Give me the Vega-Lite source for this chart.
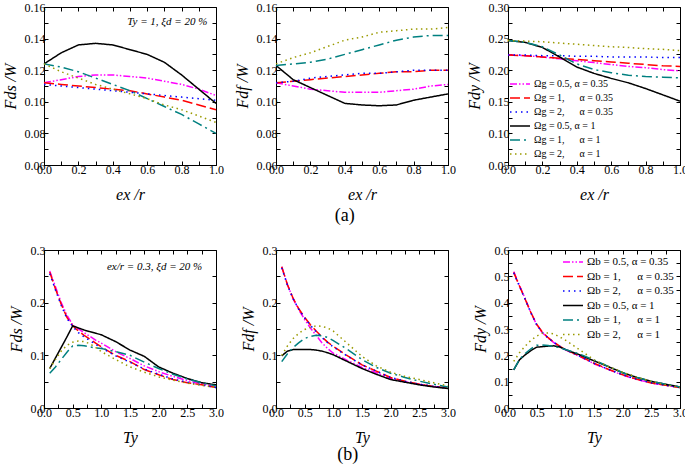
{
"$schema":"https://vega.github.io/schema/vega-lite/v6.json",
"autosize":{"type":"pad"},
"padding":{"left":1,"top":0,"right":5,"bottom":5},
"background":"white",
"config":{
 "font":"Liberation Serif",
 "view":{"stroke":"black","strokeWidth":1},
 "axis":{"grid":false,"domainColor":"black","domainWidth":1,"tickColor":"black","tickSize":-4,"labelColor":"black","titleColor":"black","labelFont":"Liberation Serif","labelFontSize":12,"titleFont":"Liberation Serif","titleFontSize":16,"titleFontStyle":"italic","titleFontWeight":"normal","labelFlush":false,"labelPadding":3,"labelOverlap":false},
 "axisX":{"titlePadding":11},
 "axisY":{"titlePadding":6},
 "legend":{"labelFont":"Liberation Serif","labelColor":"black"},
 "text":{"font":"Liberation Serif"},
 "title":{"font":"Liberation Serif"}
},
"datasets":{
"p1":[
{"s":"m","x":0,"y":0.112},{"s":"m","x":0.1,"y":0.114},{"s":"m","x":0.2,"y":0.116},{"s":"m","x":0.3,"y":0.117},{"s":"m","x":0.4,"y":0.117},{"s":"m","x":0.5,"y":0.116},{"s":"m","x":0.6,"y":0.115},{"s":"m","x":0.7,"y":0.113},{"s":"m","x":0.8,"y":0.111},{"s":"m","x":0.9,"y":0.108},{"s":"m","x":1,"y":0.104},
{"s":"r","x":0,"y":0.112},{"s":"r","x":0.1,"y":0.111},{"s":"r","x":0.2,"y":0.110},{"s":"r","x":0.3,"y":0.109},{"s":"r","x":0.4,"y":0.108},{"s":"r","x":0.5,"y":0.107},{"s":"r","x":0.6,"y":0.105},{"s":"r","x":0.7,"y":0.103},{"s":"r","x":0.8,"y":0.101},{"s":"r","x":0.9,"y":0.098},{"s":"r","x":1,"y":0.095},
{"s":"b","x":0,"y":0.111},{"s":"b","x":0.1,"y":0.110},{"s":"b","x":0.2,"y":0.109},{"s":"b","x":0.3,"y":0.108},{"s":"b","x":0.4,"y":0.107},{"s":"b","x":0.5,"y":0.106},{"s":"b","x":0.6,"y":0.105},{"s":"b","x":0.7,"y":0.104},{"s":"b","x":0.8,"y":0.103},{"s":"b","x":0.9,"y":0.102},{"s":"b","x":1,"y":0.101},
{"s":"k","x":0,"y":0.124},{"s":"k","x":0.1,"y":0.131},{"s":"k","x":0.2,"y":0.136},{"s":"k","x":0.3,"y":0.137},{"s":"k","x":0.4,"y":0.136},{"s":"k","x":0.5,"y":0.133},{"s":"k","x":0.6,"y":0.130},{"s":"k","x":0.7,"y":0.125},{"s":"k","x":0.8,"y":0.117},{"s":"k","x":0.9,"y":0.108},{"s":"k","x":1,"y":0.099},
{"s":"t","x":0,"y":0.124},{"s":"t","x":0.1,"y":0.122},{"s":"t","x":0.2,"y":0.119},{"s":"t","x":0.3,"y":0.115},{"s":"t","x":0.4,"y":0.111},{"s":"t","x":0.5,"y":0.107},{"s":"t","x":0.6,"y":0.102},{"s":"t","x":0.7,"y":0.097},{"s":"t","x":0.8,"y":0.092},{"s":"t","x":0.9,"y":0.086},{"s":"t","x":1,"y":0.080},
{"s":"o","x":0,"y":0.124},{"s":"o","x":0.1,"y":0.119},{"s":"o","x":0.2,"y":0.115},{"s":"o","x":0.3,"y":0.111},{"s":"o","x":0.4,"y":0.108},{"s":"o","x":0.5,"y":0.105},{"s":"o","x":0.6,"y":0.102},{"s":"o","x":0.7,"y":0.098},{"s":"o","x":0.8,"y":0.095},{"s":"o","x":0.9,"y":0.091},{"s":"o","x":1,"y":0.087}
],
"p2":[
{"s":"m","x":0,"y":0.112},{"s":"m","x":0.1,"y":0.110},{"s":"m","x":0.2,"y":0.108},{"s":"m","x":0.3,"y":0.107},{"s":"m","x":0.4,"y":0.106},{"s":"m","x":0.5,"y":0.106},{"s":"m","x":0.6,"y":0.106},{"s":"m","x":0.7,"y":0.107},{"s":"m","x":0.8,"y":0.108},{"s":"m","x":0.9,"y":0.110},{"s":"m","x":1,"y":0.111},
{"s":"r","x":0,"y":0.112},{"s":"r","x":0.1,"y":0.113},{"s":"r","x":0.2,"y":0.114},{"s":"r","x":0.3,"y":0.115},{"s":"r","x":0.4,"y":0.116},{"s":"r","x":0.5,"y":0.117},{"s":"r","x":0.6,"y":0.118},{"s":"r","x":0.7,"y":0.119},{"s":"r","x":0.8,"y":0.119},{"s":"r","x":0.9,"y":0.120},{"s":"r","x":1,"y":0.120},
{"s":"b","x":0,"y":0.112},{"s":"b","x":0.1,"y":0.113},{"s":"b","x":0.2,"y":0.115},{"s":"b","x":0.3,"y":0.116},{"s":"b","x":0.4,"y":0.117},{"s":"b","x":0.5,"y":0.118},{"s":"b","x":0.6,"y":0.118},{"s":"b","x":0.7,"y":0.119},{"s":"b","x":0.8,"y":0.120},{"s":"b","x":0.9,"y":0.120},{"s":"b","x":1,"y":0.120},
{"s":"k","x":0,"y":0.123},{"s":"k","x":0.1,"y":0.114},{"s":"k","x":0.2,"y":0.109},{"s":"k","x":0.3,"y":0.104},{"s":"k","x":0.4,"y":0.099},{"s":"k","x":0.5,"y":0.098},{"s":"k","x":0.6,"y":0.0975},{"s":"k","x":0.7,"y":0.098},{"s":"k","x":0.8,"y":0.101},{"s":"k","x":0.9,"y":0.103},{"s":"k","x":1,"y":0.105},
{"s":"t","x":0,"y":0.123},{"s":"t","x":0.1,"y":0.124},{"s":"t","x":0.2,"y":0.125},{"s":"t","x":0.3,"y":0.127},{"s":"t","x":0.4,"y":0.130},{"s":"t","x":0.5,"y":0.133},{"s":"t","x":0.6,"y":0.136},{"s":"t","x":0.7,"y":0.139},{"s":"t","x":0.8,"y":0.141},{"s":"t","x":0.9,"y":0.142},{"s":"t","x":1,"y":0.142},
{"s":"o","x":0,"y":0.124},{"s":"o","x":0.1,"y":0.128},{"s":"o","x":0.2,"y":0.131},{"s":"o","x":0.3,"y":0.135},{"s":"o","x":0.4,"y":0.139},{"s":"o","x":0.5,"y":0.141},{"s":"o","x":0.6,"y":0.144},{"s":"o","x":0.7,"y":0.145},{"s":"o","x":0.8,"y":0.146},{"s":"o","x":0.9,"y":0.146},{"s":"o","x":1,"y":0.147}
],
"p3":[
{"s":"m","x":0,"y":0.224},{"s":"m","x":0.1,"y":0.223},{"s":"m","x":0.2,"y":0.221},{"s":"m","x":0.3,"y":0.218},{"s":"m","x":0.4,"y":0.215},{"s":"m","x":0.5,"y":0.212},{"s":"m","x":0.6,"y":0.209},{"s":"m","x":0.7,"y":0.206},{"s":"m","x":0.8,"y":0.204},{"s":"m","x":0.9,"y":0.201},{"s":"m","x":1,"y":0.199},
{"s":"r","x":0,"y":0.224},{"s":"r","x":0.1,"y":0.223},{"s":"r","x":0.2,"y":0.221},{"s":"r","x":0.3,"y":0.219},{"s":"r","x":0.4,"y":0.217},{"s":"r","x":0.5,"y":0.215},{"s":"r","x":0.6,"y":0.213},{"s":"r","x":0.7,"y":0.211},{"s":"r","x":0.8,"y":0.209},{"s":"r","x":0.9,"y":0.207},{"s":"r","x":1,"y":0.206},
{"s":"b","x":0,"y":0.224},{"s":"b","x":0.1,"y":0.224},{"s":"b","x":0.2,"y":0.223},{"s":"b","x":0.3,"y":0.223},{"s":"b","x":0.4,"y":0.222},{"s":"b","x":0.5,"y":0.222},{"s":"b","x":0.6,"y":0.221},{"s":"b","x":0.7,"y":0.221},{"s":"b","x":0.8,"y":0.221},{"s":"b","x":0.9,"y":0.220},{"s":"b","x":1,"y":0.220},
{"s":"k","x":0,"y":0.247},{"s":"k","x":0.1,"y":0.244},{"s":"k","x":0.2,"y":0.236},{"s":"k","x":0.3,"y":0.221},{"s":"k","x":0.4,"y":0.205},{"s":"k","x":0.5,"y":0.195},{"s":"k","x":0.6,"y":0.187},{"s":"k","x":0.7,"y":0.180},{"s":"k","x":0.8,"y":0.171},{"s":"k","x":0.9,"y":0.161},{"s":"k","x":1,"y":0.151},
{"s":"t","x":0,"y":0.247},{"s":"t","x":0.1,"y":0.244},{"s":"t","x":0.2,"y":0.237},{"s":"t","x":0.3,"y":0.224},{"s":"t","x":0.4,"y":0.210},{"s":"t","x":0.5,"y":0.201},{"s":"t","x":0.6,"y":0.196},{"s":"t","x":0.7,"y":0.192},{"s":"t","x":0.8,"y":0.190},{"s":"t","x":0.9,"y":0.189},{"s":"t","x":1,"y":0.188},
{"s":"o","x":0,"y":0.247},{"s":"o","x":0.1,"y":0.246},{"s":"o","x":0.2,"y":0.245},{"s":"o","x":0.3,"y":0.243},{"s":"o","x":0.4,"y":0.241},{"s":"o","x":0.5,"y":0.239},{"s":"o","x":0.6,"y":0.237},{"s":"o","x":0.7,"y":0.236},{"s":"o","x":0.8,"y":0.234},{"s":"o","x":0.9,"y":0.233},{"s":"o","x":1,"y":0.231}
],
"p4":[
{"s":"m","x":0.1,"y":0.260},{"s":"m","x":0.2,"y":0.230},{"s":"m","x":0.3,"y":0.200},{"s":"m","x":0.4,"y":0.176},{"s":"m","x":0.5,"y":0.158},{"s":"m","x":0.6,"y":0.150},{"s":"m","x":0.7,"y":0.143},{"s":"m","x":0.8,"y":0.136},{"s":"m","x":0.9,"y":0.129},{"s":"m","x":1.0,"y":0.123},{"s":"m","x":1.25,"y":0.107},{"s":"m","x":1.5,"y":0.094},{"s":"m","x":1.75,"y":0.080},{"s":"m","x":2.0,"y":0.069},{"s":"m","x":2.25,"y":0.060},{"s":"m","x":2.5,"y":0.052},{"s":"m","x":2.75,"y":0.046},{"s":"m","x":3.0,"y":0.040},
{"s":"r","x":0.1,"y":0.258},{"s":"r","x":0.2,"y":0.226},{"s":"r","x":0.3,"y":0.197},{"s":"r","x":0.4,"y":0.172},{"s":"r","x":0.5,"y":0.156},{"s":"r","x":0.6,"y":0.146},{"s":"r","x":0.7,"y":0.138},{"s":"r","x":0.8,"y":0.131},{"s":"r","x":0.9,"y":0.123},{"s":"r","x":1.0,"y":0.116},{"s":"r","x":1.25,"y":0.100},{"s":"r","x":1.5,"y":0.088},{"s":"r","x":1.75,"y":0.073},{"s":"r","x":2.0,"y":0.063},{"s":"r","x":2.25,"y":0.054},{"s":"r","x":2.5,"y":0.048},{"s":"r","x":2.75,"y":0.044},{"s":"r","x":3.0,"y":0.039},
{"s":"b","x":0.1,"y":0.255},{"s":"b","x":0.2,"y":0.224},{"s":"b","x":0.3,"y":0.195},{"s":"b","x":0.4,"y":0.170},{"s":"b","x":0.5,"y":0.155},{"s":"b","x":0.6,"y":0.143},{"s":"b","x":0.7,"y":0.135},{"s":"b","x":0.8,"y":0.128},{"s":"b","x":0.9,"y":0.121},{"s":"b","x":1.0,"y":0.114},{"s":"b","x":1.25,"y":0.099},{"s":"b","x":1.5,"y":0.087},{"s":"b","x":1.75,"y":0.074},{"s":"b","x":2.0,"y":0.064},{"s":"b","x":2.25,"y":0.055},{"s":"b","x":2.5,"y":0.049},{"s":"b","x":2.75,"y":0.044},{"s":"b","x":3.0,"y":0.039},
{"s":"k","x":0.1,"y":0.075},{"s":"k","x":0.2,"y":0.095},{"s":"k","x":0.3,"y":0.115},{"s":"k","x":0.4,"y":0.135},{"s":"k","x":0.5,"y":0.156},{"s":"k","x":0.6,"y":0.152},{"s":"k","x":0.7,"y":0.148},{"s":"k","x":0.8,"y":0.145},{"s":"k","x":0.9,"y":0.142},{"s":"k","x":1.0,"y":0.139},{"s":"k","x":1.25,"y":0.126},{"s":"k","x":1.5,"y":0.110},{"s":"k","x":1.75,"y":0.098},{"s":"k","x":2.0,"y":0.078},{"s":"k","x":2.25,"y":0.066},{"s":"k","x":2.5,"y":0.056},{"s":"k","x":2.75,"y":0.048},{"s":"k","x":3.0,"y":0.044},
{"s":"t","x":0.1,"y":0.066},{"s":"t","x":0.2,"y":0.078},{"s":"t","x":0.3,"y":0.092},{"s":"t","x":0.4,"y":0.106},{"s":"t","x":0.5,"y":0.118},{"s":"t","x":0.6,"y":0.119},{"s":"t","x":0.7,"y":0.118},{"s":"t","x":0.8,"y":0.116},{"s":"t","x":0.9,"y":0.114},{"s":"t","x":1.0,"y":0.113},{"s":"t","x":1.25,"y":0.107},{"s":"t","x":1.5,"y":0.100},{"s":"t","x":1.75,"y":0.087},{"s":"t","x":2.0,"y":0.075},{"s":"t","x":2.25,"y":0.064},{"s":"t","x":2.5,"y":0.055},{"s":"t","x":2.75,"y":0.048},{"s":"t","x":3.0,"y":0.042},
{"s":"o","x":0.1,"y":0.075},{"s":"o","x":0.2,"y":0.092},{"s":"o","x":0.3,"y":0.108},{"s":"o","x":0.4,"y":0.119},{"s":"o","x":0.5,"y":0.125},{"s":"o","x":0.6,"y":0.127},{"s":"o","x":0.7,"y":0.126},{"s":"o","x":0.8,"y":0.122},{"s":"o","x":0.9,"y":0.115},{"s":"o","x":1.0,"y":0.107},{"s":"o","x":1.25,"y":0.092},{"s":"o","x":1.5,"y":0.078},{"s":"o","x":1.75,"y":0.068},{"s":"o","x":2.0,"y":0.059},{"s":"o","x":2.25,"y":0.053},{"s":"o","x":2.5,"y":0.047},{"s":"o","x":2.75,"y":0.043},{"s":"o","x":3.0,"y":0.039}
],
"p5":[
{"s":"m","x":0.1,"y":0.268},{"s":"m","x":0.2,"y":0.234},{"s":"m","x":0.3,"y":0.207},{"s":"m","x":0.4,"y":0.186},{"s":"m","x":0.5,"y":0.168},{"s":"m","x":0.6,"y":0.152},{"s":"m","x":0.7,"y":0.138},{"s":"m","x":0.8,"y":0.124},{"s":"m","x":0.9,"y":0.113},{"s":"m","x":1.0,"y":0.104},{"s":"m","x":1.25,"y":0.090},{"s":"m","x":1.5,"y":0.077},{"s":"m","x":1.75,"y":0.067},{"s":"m","x":2.0,"y":0.056},{"s":"m","x":2.25,"y":0.050},{"s":"m","x":2.5,"y":0.045},{"s":"m","x":2.75,"y":0.041},{"s":"m","x":3.0,"y":0.038},
{"s":"r","x":0.1,"y":0.268},{"s":"r","x":0.2,"y":0.234},{"s":"r","x":0.3,"y":0.208},{"s":"r","x":0.4,"y":0.188},{"s":"r","x":0.5,"y":0.172},{"s":"r","x":0.6,"y":0.158},{"s":"r","x":0.7,"y":0.146},{"s":"r","x":0.8,"y":0.135},{"s":"r","x":0.9,"y":0.125},{"s":"r","x":1.0,"y":0.117},{"s":"r","x":1.25,"y":0.099},{"s":"r","x":1.5,"y":0.082},{"s":"r","x":1.75,"y":0.070},{"s":"r","x":2.0,"y":0.058},{"s":"r","x":2.25,"y":0.051},{"s":"r","x":2.5,"y":0.045},{"s":"r","x":2.75,"y":0.041},{"s":"r","x":3.0,"y":0.038},
{"s":"b","x":0.1,"y":0.266},{"s":"b","x":0.2,"y":0.233},{"s":"b","x":0.3,"y":0.207},{"s":"b","x":0.4,"y":0.187},{"s":"b","x":0.5,"y":0.171},{"s":"b","x":0.6,"y":0.157},{"s":"b","x":0.7,"y":0.145},{"s":"b","x":0.8,"y":0.134},{"s":"b","x":0.9,"y":0.124},{"s":"b","x":1.0,"y":0.116},{"s":"b","x":1.25,"y":0.098},{"s":"b","x":1.5,"y":0.082},{"s":"b","x":1.75,"y":0.070},{"s":"b","x":2.0,"y":0.058},{"s":"b","x":2.25,"y":0.051},{"s":"b","x":2.5,"y":0.045},{"s":"b","x":2.75,"y":0.041},{"s":"b","x":3.0,"y":0.038},
{"s":"k","x":0.1,"y":0.099},{"s":"k","x":0.2,"y":0.108},{"s":"k","x":0.3,"y":0.111},{"s":"k","x":0.4,"y":0.111},{"s":"k","x":0.5,"y":0.111},{"s":"k","x":0.6,"y":0.111},{"s":"k","x":0.7,"y":0.110},{"s":"k","x":0.8,"y":0.108},{"s":"k","x":0.9,"y":0.105},{"s":"k","x":1.0,"y":0.101},{"s":"k","x":1.25,"y":0.088},{"s":"k","x":1.5,"y":0.075},{"s":"k","x":1.75,"y":0.064},{"s":"k","x":2.0,"y":0.054},{"s":"k","x":2.25,"y":0.049},{"s":"k","x":2.5,"y":0.044},{"s":"k","x":2.75,"y":0.040},{"s":"k","x":3.0,"y":0.037},
{"s":"t","x":0.1,"y":0.088},{"s":"t","x":0.2,"y":0.103},{"s":"t","x":0.3,"y":0.115},{"s":"t","x":0.4,"y":0.124},{"s":"t","x":0.5,"y":0.132},{"s":"t","x":0.6,"y":0.136},{"s":"t","x":0.7,"y":0.138},{"s":"t","x":0.8,"y":0.137},{"s":"t","x":0.9,"y":0.134},{"s":"t","x":1.0,"y":0.128},{"s":"t","x":1.25,"y":0.111},{"s":"t","x":1.5,"y":0.092},{"s":"t","x":1.75,"y":0.077},{"s":"t","x":2.0,"y":0.066},{"s":"t","x":2.25,"y":0.058},{"s":"t","x":2.5,"y":0.051},{"s":"t","x":2.75,"y":0.045},{"s":"t","x":3.0,"y":0.040},
{"s":"o","x":0.1,"y":0.100},{"s":"o","x":0.2,"y":0.118},{"s":"o","x":0.3,"y":0.132},{"s":"o","x":0.4,"y":0.142},{"s":"o","x":0.5,"y":0.149},{"s":"o","x":0.6,"y":0.153},{"s":"o","x":0.7,"y":0.156},{"s":"o","x":0.8,"y":0.155},{"s":"o","x":0.9,"y":0.152},{"s":"o","x":1.0,"y":0.146},{"s":"o","x":1.25,"y":0.122},{"s":"o","x":1.5,"y":0.098},{"s":"o","x":1.75,"y":0.080},{"s":"o","x":2.0,"y":0.068},{"s":"o","x":2.25,"y":0.060},{"s":"o","x":2.5,"y":0.054},{"s":"o","x":2.75,"y":0.048},{"s":"o","x":3.0,"y":0.042}
],
"p6":[
{"s":"m","x":0.1,"y":0.518},{"s":"m","x":0.2,"y":0.465},{"s":"m","x":0.3,"y":0.415},{"s":"m","x":0.4,"y":0.362},{"s":"m","x":0.5,"y":0.316},{"s":"m","x":0.6,"y":0.286},{"s":"m","x":0.7,"y":0.265},{"s":"m","x":0.8,"y":0.248},{"s":"m","x":0.9,"y":0.234},{"s":"m","x":1.0,"y":0.221},{"s":"m","x":1.25,"y":0.196},{"s":"m","x":1.5,"y":0.168},{"s":"m","x":1.75,"y":0.146},{"s":"m","x":2.0,"y":0.125},{"s":"m","x":2.25,"y":0.108},{"s":"m","x":2.5,"y":0.095},{"s":"m","x":2.75,"y":0.086},{"s":"m","x":3.0,"y":0.078},
{"s":"r","x":0.1,"y":0.515},{"s":"r","x":0.2,"y":0.463},{"s":"r","x":0.3,"y":0.413},{"s":"r","x":0.4,"y":0.362},{"s":"r","x":0.5,"y":0.318},{"s":"r","x":0.6,"y":0.288},{"s":"r","x":0.7,"y":0.267},{"s":"r","x":0.8,"y":0.250},{"s":"r","x":0.9,"y":0.235},{"s":"r","x":1.0,"y":0.222},{"s":"r","x":1.25,"y":0.197},{"s":"r","x":1.5,"y":0.170},{"s":"r","x":1.75,"y":0.147},{"s":"r","x":2.0,"y":0.126},{"s":"r","x":2.25,"y":0.109},{"s":"r","x":2.5,"y":0.095},{"s":"r","x":2.75,"y":0.086},{"s":"r","x":3.0,"y":0.078},
{"s":"b","x":0.1,"y":0.513},{"s":"b","x":0.2,"y":0.462},{"s":"b","x":0.3,"y":0.412},{"s":"b","x":0.4,"y":0.361},{"s":"b","x":0.5,"y":0.316},{"s":"b","x":0.6,"y":0.287},{"s":"b","x":0.7,"y":0.266},{"s":"b","x":0.8,"y":0.249},{"s":"b","x":0.9,"y":0.235},{"s":"b","x":1.0,"y":0.222},{"s":"b","x":1.25,"y":0.197},{"s":"b","x":1.5,"y":0.170},{"s":"b","x":1.75,"y":0.147},{"s":"b","x":2.0,"y":0.126},{"s":"b","x":2.25,"y":0.109},{"s":"b","x":2.5,"y":0.096},{"s":"b","x":2.75,"y":0.086},{"s":"b","x":3.0,"y":0.078},
{"s":"k","x":0.1,"y":0.145},{"s":"k","x":0.2,"y":0.183},{"s":"k","x":0.3,"y":0.202},{"s":"k","x":0.4,"y":0.218},{"s":"k","x":0.5,"y":0.231},{"s":"k","x":0.6,"y":0.233},{"s":"k","x":0.7,"y":0.235},{"s":"k","x":0.8,"y":0.236},{"s":"k","x":0.9,"y":0.232},{"s":"k","x":1.0,"y":0.222},{"s":"k","x":1.25,"y":0.202},{"s":"k","x":1.5,"y":0.179},{"s":"k","x":1.75,"y":0.157},{"s":"k","x":2.0,"y":0.134},{"s":"k","x":2.25,"y":0.116},{"s":"k","x":2.5,"y":0.101},{"s":"k","x":2.75,"y":0.090},{"s":"k","x":3.0,"y":0.080},
{"s":"t","x":0.1,"y":0.145},{"s":"t","x":0.2,"y":0.185},{"s":"t","x":0.3,"y":0.207},{"s":"t","x":0.4,"y":0.225},{"s":"t","x":0.5,"y":0.238},{"s":"t","x":0.6,"y":0.239},{"s":"t","x":0.7,"y":0.237},{"s":"t","x":0.8,"y":0.234},{"s":"t","x":0.9,"y":0.229},{"s":"t","x":1.0,"y":0.222},{"s":"t","x":1.25,"y":0.205},{"s":"t","x":1.5,"y":0.182},{"s":"t","x":1.75,"y":0.158},{"s":"t","x":2.0,"y":0.134},{"s":"t","x":2.25,"y":0.116},{"s":"t","x":2.5,"y":0.101},{"s":"t","x":2.75,"y":0.090},{"s":"t","x":3.0,"y":0.080},
{"s":"o","x":0.1,"y":0.177},{"s":"o","x":0.2,"y":0.210},{"s":"o","x":0.3,"y":0.235},{"s":"o","x":0.4,"y":0.257},{"s":"o","x":0.5,"y":0.273},{"s":"o","x":0.6,"y":0.284},{"s":"o","x":0.7,"y":0.285},{"s":"o","x":0.8,"y":0.281},{"s":"o","x":0.9,"y":0.270},{"s":"o","x":1.0,"y":0.258},{"s":"o","x":1.25,"y":0.221},{"s":"o","x":1.5,"y":0.183},{"s":"o","x":1.75,"y":0.158},{"s":"o","x":2.0,"y":0.136},{"s":"o","x":2.25,"y":0.117},{"s":"o","x":2.5,"y":0.101},{"s":"o","x":2.75,"y":0.088},{"s":"o","x":3.0,"y":0.078}
]
},
"vconcat":[
{
 "hconcat":[
 {
  "width":172,"height":158,
  "layer":[
   {"data":{"name":"p1"},"mark":{"type":"line","strokeWidth":1.5},
    "encoding":{
     "x":{"field":"x","type":"quantitative","scale":{"domain":[0,1],"nice":false,"zero":false},"axis":{"values":[0,0.1,0.2,0.3,0.4,0.5,0.6,0.7,0.8,0.9,1],"labelExpr":"round(datum.value*10)%2==0 ? format(datum.value,'.1f') : ''","title":"ex /r"}},
     "y":{"field":"y","type":"quantitative","scale":{"domain":[0.06,0.16],"nice":false,"zero":false},"axis":{"values":[0.06,0.07,0.08,0.09,0.1,0.11,0.12,0.13,0.14,0.15,0.16],"labelExpr":"round(datum.value*100)%2==0 ? format(datum.value,'.2f') : ''","title":"Fds /W"}},
     "color":{"field":"s","type":"nominal","scale":{"domain":["m","r","b","k","t","o"],"range":["#ff00ff","#ff0000","#0000ff","#000000","#008080","#9a9a00"]},"legend":null},
     "strokeDash":{"field":"s","type":"nominal","scale":{"domain":["m","r","b","k","t","o"],"range":[[7,2,1.5,2,1.5,2],[10,4],[1.5,4],[1,0],[10,4,2,4],[1.5,3.5]]},"legend":null}
    }},
   {"data":{"values":[{"note":"Ty = 1, ξd = 20 %"}]},
    "mark":{"type":"text","align":"right","baseline":"middle","fontSize":11,"font":"Liberation Serif","fontWeight":"normal","fontStyle":"italic"},
    "encoding":{"x":{"datum":0.95,"type":"quantitative","axis":null},"y":{"datum":0.1505,"type":"quantitative","axis":null},"text":{"field":"note"}}},
   {"data":{"name":"p1"},"mark":{"type":"line","opacity":0},
    "encoding":{
     "x":{"field":"x","type":"quantitative","scale":{"domain":[0,1],"nice":false,"zero":false},"axis":{"orient":"top","values":[0,0.1,0.2,0.3,0.4,0.5,0.6,0.7,0.8,0.9,1],"labels":false,"title":null,"domain":false}},
     "y":{"field":"y","type":"quantitative","scale":{"domain":[0.06,0.16],"nice":false,"zero":false},"axis":{"orient":"right","values":[0.06,0.07,0.08,0.09,0.1,0.11,0.12,0.13,0.14,0.15,0.16],"labels":false,"title":null,"domain":false}},
     "detail":{"field":"s"}
    }}
  ],
  "resolve":{"axis":{"x":"independent","y":"independent"}}
 },
 {
  "width":172,"height":158,"data":{"name":"p2"},
  "layer":[
   {"mark":{"type":"line","strokeWidth":1.5},
    "encoding":{
     "x":{"field":"x","type":"quantitative","scale":{"domain":[0,1],"nice":false,"zero":false},"axis":{"values":[0,0.1,0.2,0.3,0.4,0.5,0.6,0.7,0.8,0.9,1],"labelExpr":"round(datum.value*10)%2==0 ? format(datum.value,'.1f') : ''","title":"ex /r"}},
     "y":{"field":"y","type":"quantitative","scale":{"domain":[0.06,0.16],"nice":false,"zero":false},"axis":{"values":[0.06,0.07,0.08,0.09,0.1,0.11,0.12,0.13,0.14,0.15,0.16],"labelExpr":"round(datum.value*100)%2==0 ? format(datum.value,'.2f') : ''","title":"Fdf /W"}},
     "color":{"field":"s","type":"nominal","scale":{"domain":["m","r","b","k","t","o"],"range":["#ff00ff","#ff0000","#0000ff","#000000","#008080","#9a9a00"]},"legend":null},
     "strokeDash":{"field":"s","type":"nominal","scale":{"domain":["m","r","b","k","t","o"],"range":[[7,2,1.5,2,1.5,2],[10,4],[1.5,4],[1,0],[10,4,2,4],[1.5,3.5]]},"legend":null}
    }},
   {"mark":{"type":"line","opacity":0},
    "encoding":{
     "x":{"field":"x","type":"quantitative","scale":{"domain":[0,1],"nice":false,"zero":false},"axis":{"orient":"top","values":[0,0.1,0.2,0.3,0.4,0.5,0.6,0.7,0.8,0.9,1],"labels":false,"title":null,"domain":false}},
     "y":{"field":"y","type":"quantitative","scale":{"domain":[0.06,0.16],"nice":false,"zero":false},"axis":{"orient":"right","values":[0.06,0.07,0.08,0.09,0.1,0.11,0.12,0.13,0.14,0.15,0.16],"labels":false,"title":null,"domain":false}},
     "detail":{"field":"s"}
    }}
  ],
  "resolve":{"axis":{"x":"independent","y":"independent"}}
 },
 {
  "width":172,"height":158,"data":{"name":"p3"},
  "layer":[
   {"mark":{"type":"line","strokeWidth":1.5},
    "encoding":{
     "x":{"field":"x","type":"quantitative","scale":{"domain":[0,1],"nice":false,"zero":false},"axis":{"values":[0,0.1,0.2,0.3,0.4,0.5,0.6,0.7,0.8,0.9,1],"labelExpr":"round(datum.value*10)%2==0 ? format(datum.value,'.1f') : ''","title":"ex /r"}},
     "y":{"field":"y","type":"quantitative","scale":{"domain":[0.05,0.3],"nice":false,"zero":false},"axis":{"values":[0.05,0.075,0.1,0.125,0.15,0.175,0.2,0.225,0.25,0.275,0.3],"labelExpr":"round(datum.value*1000)%50==0 ? format(datum.value,'.2f') : ''","title":"Fdy /W"}},
     "color":{"field":"s","type":"nominal","scale":{"domain":["m","r","b","k","t","o"],"range":["#ff00ff","#ff0000","#0000ff","#000000","#008080","#9a9a00"]},"legend":{"title":null,"orient":"bottom-left","offset":6,"padding":0,"labelFont":"Liberation Serif","labelFontSize":10,"symbolType":"M-2,0H2","symbolSize":100,"symbolStrokeWidth":1.5,"labelOffset":8,"rowPadding":3,"labelExpr":"{'m':'Ωg = 0.5, α = 0.35','r':'Ωg = 1,\u00a0\u00a0\u00a0\u00a0\u00a0 α = 0.35','b':'Ωg = 2,\u00a0\u00a0\u00a0\u00a0\u00a0 α = 0.35','k':'Ωg = 0.5, α = 1','t':'Ωg = 1,\u00a0\u00a0\u00a0\u00a0\u00a0 α = 1','o':'Ωg = 2,\u00a0\u00a0\u00a0\u00a0\u00a0 α = 1'}[datum.label]"}},
     "strokeDash":{"field":"s","type":"nominal","scale":{"domain":["m","r","b","k","t","o"],"range":[[7,2,1.5,2,1.5,2],[10,4],[1.5,4],[1,0],[10,4,2,4],[1.5,3.5]]},"legend":{"title":null,"orient":"bottom-left","offset":6,"padding":0,"labelFont":"Liberation Serif","labelFontSize":10,"symbolType":"M-2,0H2","symbolSize":100,"symbolStrokeWidth":1.5,"labelOffset":8,"rowPadding":3,"labelExpr":"{'m':'Ωg = 0.5, α = 0.35','r':'Ωg = 1,\u00a0\u00a0\u00a0\u00a0\u00a0 α = 0.35','b':'Ωg = 2,\u00a0\u00a0\u00a0\u00a0\u00a0 α = 0.35','k':'Ωg = 0.5, α = 1','t':'Ωg = 1,\u00a0\u00a0\u00a0\u00a0\u00a0 α = 1','o':'Ωg = 2,\u00a0\u00a0\u00a0\u00a0\u00a0 α = 1'}[datum.label]"}}
    }},
   {"mark":{"type":"line","opacity":0},
    "encoding":{
     "x":{"field":"x","type":"quantitative","scale":{"domain":[0,1],"nice":false,"zero":false},"axis":{"orient":"top","values":[0,0.1,0.2,0.3,0.4,0.5,0.6,0.7,0.8,0.9,1],"labels":false,"title":null,"domain":false}},
     "y":{"field":"y","type":"quantitative","scale":{"domain":[0.05,0.3],"nice":false,"zero":false},"axis":{"orient":"right","values":[0.05,0.075,0.1,0.125,0.15,0.175,0.2,0.225,0.25,0.275,0.3],"labels":false,"title":null,"domain":false}},
     "detail":{"field":"s"}
    }}
  ],
  "resolve":{"axis":{"x":"independent","y":"independent"}}
 }
 ],
 "spacing":60,
 "bounds":"flush",
 "title":{"text":"(a)","orient":"bottom","anchor":"middle","fontSize":18,"font":"Liberation Serif","fontWeight":"normal","offset":4},
 "resolve":{"scale":{"color":"independent","strokeDash":"independent"}}
},
{
 "hconcat":[
 {
  "width":172,"height":158,
  "layer":[
   {"data":{"name":"p4"},"mark":{"type":"line","strokeWidth":1.5},
    "encoding":{
     "x":{"field":"x","type":"quantitative","scale":{"domain":[0,3],"nice":false,"zero":false},"axis":{"values":[0,0.25,0.5,0.75,1,1.25,1.5,1.75,2,2.25,2.5,2.75,3],"labelExpr":"round(datum.value*100)%50==0 ? format(datum.value,'.1f') : ''","title":"Ty"}},
     "y":{"field":"y","type":"quantitative","scale":{"domain":[0,0.3],"nice":false,"zero":false},"axis":{"values":[0,0.05,0.1,0.15,0.2,0.25,0.3],"labelExpr":"round(datum.value*100)%10==0 ? format(datum.value,'.1f') : ''","title":"Fds /W"}},
     "color":{"field":"s","type":"nominal","scale":{"domain":["m","r","b","k","t","o"],"range":["#ff00ff","#ff0000","#0000ff","#000000","#008080","#9a9a00"]},"legend":null},
     "strokeDash":{"field":"s","type":"nominal","scale":{"domain":["m","r","b","k","t","o"],"range":[[7,2,1.5,2,1.5,2],[10,4],[1.5,4],[1,0],[10,4,2,4],[1.5,3.5]]},"legend":null}
    }},
   {"data":{"values":[{"note":"ex/r = 0.3, ξd = 20 %"}]},
    "mark":{"type":"text","align":"right","baseline":"middle","fontSize":11,"font":"Liberation Serif","fontWeight":"normal","fontStyle":"italic"},
    "encoding":{"x":{"datum":2.76,"type":"quantitative","axis":null},"y":{"datum":0.268,"type":"quantitative","axis":null},"text":{"field":"note"}}},
   {"data":{"name":"p4"},"mark":{"type":"line","opacity":0},
    "encoding":{
     "x":{"field":"x","type":"quantitative","scale":{"domain":[0,3],"nice":false,"zero":false},"axis":{"orient":"top","values":[0,0.25,0.5,0.75,1,1.25,1.5,1.75,2,2.25,2.5,2.75,3],"labels":false,"title":null,"domain":false}},
     "y":{"field":"y","type":"quantitative","scale":{"domain":[0,0.3],"nice":false,"zero":false},"axis":{"orient":"right","values":[0,0.05,0.1,0.15,0.2,0.25,0.3],"labels":false,"title":null,"domain":false}},
     "detail":{"field":"s"}
    }}
  ],
  "resolve":{"axis":{"x":"independent","y":"independent"}}
 },
 {
  "width":172,"height":158,"data":{"name":"p5"},
  "layer":[
   {"mark":{"type":"line","strokeWidth":1.5},
    "encoding":{
     "x":{"field":"x","type":"quantitative","scale":{"domain":[0,3],"nice":false,"zero":false},"axis":{"values":[0,0.25,0.5,0.75,1,1.25,1.5,1.75,2,2.25,2.5,2.75,3],"labelExpr":"round(datum.value*100)%50==0 ? format(datum.value,'.1f') : ''","title":"Ty"}},
     "y":{"field":"y","type":"quantitative","scale":{"domain":[0,0.3],"nice":false,"zero":false},"axis":{"values":[0,0.05,0.1,0.15,0.2,0.25,0.3],"labelExpr":"round(datum.value*100)%10==0 ? format(datum.value,'.1f') : ''","title":"Fdf /W"}},
     "color":{"field":"s","type":"nominal","scale":{"domain":["m","r","b","k","t","o"],"range":["#ff00ff","#ff0000","#0000ff","#000000","#008080","#9a9a00"]},"legend":null},
     "strokeDash":{"field":"s","type":"nominal","scale":{"domain":["m","r","b","k","t","o"],"range":[[7,2,1.5,2,1.5,2],[10,4],[1.5,4],[1,0],[10,4,2,4],[1.5,3.5]]},"legend":null}
    }},
   {"mark":{"type":"line","opacity":0},
    "encoding":{
     "x":{"field":"x","type":"quantitative","scale":{"domain":[0,3],"nice":false,"zero":false},"axis":{"orient":"top","values":[0,0.25,0.5,0.75,1,1.25,1.5,1.75,2,2.25,2.5,2.75,3],"labels":false,"title":null,"domain":false}},
     "y":{"field":"y","type":"quantitative","scale":{"domain":[0,0.3],"nice":false,"zero":false},"axis":{"orient":"right","values":[0,0.05,0.1,0.15,0.2,0.25,0.3],"labels":false,"title":null,"domain":false}},
     "detail":{"field":"s"}
    }}
  ],
  "resolve":{"axis":{"x":"independent","y":"independent"}}
 },
 {
  "width":172,"height":158,"data":{"name":"p6"},
  "layer":[
   {"mark":{"type":"line","strokeWidth":1.5},
    "encoding":{
     "x":{"field":"x","type":"quantitative","scale":{"domain":[0,3],"nice":false,"zero":false},"axis":{"values":[0,0.25,0.5,0.75,1,1.25,1.5,1.75,2,2.25,2.5,2.75,3],"labelExpr":"round(datum.value*100)%50==0 ? format(datum.value,'.1f') : ''","title":"Ty"}},
     "y":{"field":"y","type":"quantitative","scale":{"domain":[0,0.6],"nice":false,"zero":false},"axis":{"values":[0,0.05,0.1,0.15,0.2,0.25,0.3,0.35,0.4,0.45,0.5,0.55,0.6],"labelExpr":"round(datum.value*100)%10==0 ? format(datum.value,'.1f') : ''","title":"Fdy /W"}},
     "color":{"field":"s","type":"nominal","scale":{"domain":["m","r","b","k","t","o"],"range":["#ff00ff","#ff0000","#0000ff","#000000","#008080","#9a9a00"]},"legend":{"title":null,"orient":"top-right","offset":6,"padding":0,"labelFont":"Liberation Serif","labelFontSize":11,"symbolType":"M-2,0H2","symbolSize":100,"symbolStrokeWidth":1.5,"labelOffset":8,"rowPadding":3.5,"labelExpr":"{'m':'Ωb = 0.5, α = 0.35','r':'Ωb = 1,\u00a0\u00a0\u00a0\u00a0\u00a0 α = 0.35','b':'Ωb = 2,\u00a0\u00a0\u00a0\u00a0\u00a0 α = 0.35','k':'Ωb = 0.5, α = 1','t':'Ωb = 1,\u00a0\u00a0\u00a0\u00a0\u00a0 α = 1','o':'Ωb = 2,\u00a0\u00a0\u00a0\u00a0\u00a0 α = 1'}[datum.label]"}},
     "strokeDash":{"field":"s","type":"nominal","scale":{"domain":["m","r","b","k","t","o"],"range":[[7,2,1.5,2,1.5,2],[10,4],[1.5,4],[1,0],[10,4,2,4],[1.5,3.5]]},"legend":{"title":null,"orient":"top-right","offset":6,"padding":0,"labelFont":"Liberation Serif","labelFontSize":11,"symbolType":"M-2,0H2","symbolSize":100,"symbolStrokeWidth":1.5,"labelOffset":8,"rowPadding":3.5,"labelExpr":"{'m':'Ωb = 0.5, α = 0.35','r':'Ωb = 1,\u00a0\u00a0\u00a0\u00a0\u00a0 α = 0.35','b':'Ωb = 2,\u00a0\u00a0\u00a0\u00a0\u00a0 α = 0.35','k':'Ωb = 0.5, α = 1','t':'Ωb = 1,\u00a0\u00a0\u00a0\u00a0\u00a0 α = 1','o':'Ωb = 2,\u00a0\u00a0\u00a0\u00a0\u00a0 α = 1'}[datum.label]"}}
    }},
   {"mark":{"type":"line","opacity":0},
    "encoding":{
     "x":{"field":"x","type":"quantitative","scale":{"domain":[0,3],"nice":false,"zero":false},"axis":{"orient":"top","values":[0,0.25,0.5,0.75,1,1.25,1.5,1.75,2,2.25,2.5,2.75,3],"labels":false,"title":null,"domain":false}},
     "y":{"field":"y","type":"quantitative","scale":{"domain":[0,0.6],"nice":false,"zero":false},"axis":{"orient":"right","values":[0,0.05,0.1,0.15,0.2,0.25,0.3,0.35,0.4,0.45,0.5,0.55,0.6],"labels":false,"title":null,"domain":false}},
     "detail":{"field":"s"}
    }}
  ],
  "resolve":{"axis":{"x":"independent","y":"independent"}}
 }
 ],
 "spacing":60,
 "bounds":"flush",
 "title":{"text":"(b)","orient":"bottom","anchor":"middle","fontSize":18,"font":"Liberation Serif","fontWeight":"normal","offset":0},
 "resolve":{"scale":{"color":"independent","strokeDash":"independent"}}
}
],
"spacing":18,
"resolve":{"scale":{"color":"independent","strokeDash":"independent"}}
}
